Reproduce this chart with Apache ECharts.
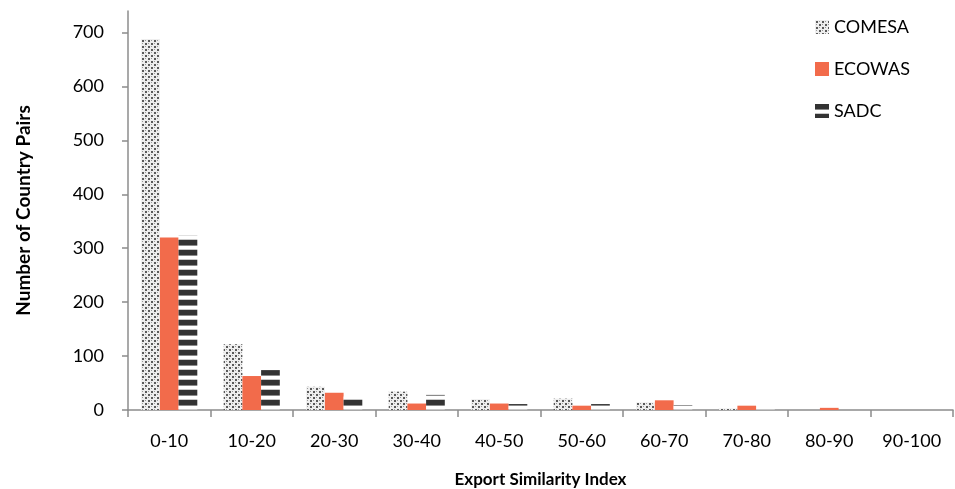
<!DOCTYPE html>
<html>
<head>
<meta charset="utf-8">
<script src="https://cdn.jsdelivr.net/npm/echarts@6/dist/echarts.min.js"></script>
<style>
  html, body { margin: 0; padding: 0; background: #fff; }
  #chart { width: 955px; height: 489px; }
</style>
</head>
<body>
<div id="chart"></div>
<script>
// Export similarity index bins and the number of country pairs in each bloc
const categories = ['0-10', '10-20', '20-30', '30-40', '40-50', '50-60', '60-70', '70-80', '80-90', '90-100'];
const comesa = [688, 122, 43, 34, 20, 21, 14, 3, 0, 0];
const ecowas = [320, 63, 32, 12, 12, 8, 18, 8, 4, 0];
const sadc = [323, 74, 25, 28, 11, 11, 9, 2, 0, 0];
const yTicks = [0, 100, 200, 300, 400, 500, 600, 700];

// Speckled fill: light grey ground with staggered dark dots
function dotPattern() {
  const c = document.createElement('canvas');
  c.width = 6; c.height = 6;
  const g = c.getContext('2d');
  g.fillStyle = '#eeeeee';
  g.fillRect(0, 0, 6, 6);
  g.fillStyle = '#5a5a5a';
  g.fillRect(1, 1, 2, 2);
  g.fillRect(4, 4, 2, 2);
  g.fillStyle = '#9a9a9a';
  g.fillRect(4, 1, 1, 1);
  g.fillRect(1, 4, 1, 1);
  return c;
}

// Horizontal stripes: dark bands on white
function stripePattern() {
  const c = document.createElement('canvas');
  c.width = 4; c.height = 10;
  const g = c.getContext('2d');
  g.fillStyle = '#ffffff';
  g.fillRect(0, 0, 4, 10);
  g.fillStyle = '#333333';
  g.fillRect(0, 0, 4, 5);
  g.fillStyle = '#8a8a8a';
  g.fillRect(0, 5, 4, 1);
  g.fillStyle = '#c8c8c8';
  g.fillRect(0, 9, 4, 1);
  return c;
}

const font = 'Lato, "Open Sans", sans-serif';
const axisGrey = '#8c8c8c';

const chart = echarts.init(document.getElementById('chart'));
chart.setOption({
  animation: false,
  backgroundColor: '#ffffff',
  textStyle: { fontFamily: font },
  grid: { left: 128, right: 2, top: 11, bottom: 79, containLabel: false, outerBoundsMode: 'none' },
  legend: {
    orient: 'vertical',
    left: 810,
    top: 13,
    itemWidth: 14,
    itemHeight: 14,
    itemGap: 24,
    icon: 'rect',
    textStyle: { fontFamily: font, fontSize: 18, color: '#000' },
    data: ['COMESA', 'ECOWAS', 'SADC']
  },
  xAxis: {
    type: 'category',
    data: categories,
    name: 'Export Similarity Index',
    nameLocation: 'middle',
    nameGap: 61,
    nameTextStyle: { fontFamily: font, fontSize: 17, fontWeight: 'bold', color: '#000' },
    axisLine: { lineStyle: { color: axisGrey, width: 1.5 } },
    axisTick: { show: true, length: 7, lineStyle: { color: axisGrey, width: 1.5 } },
    axisLabel: { fontFamily: font, fontSize: 18, color: '#000', margin: 22 }
  },
  yAxis: {
    type: 'value',
    min: 0,
    max: 740,
    name: 'Number of Country Pairs',
    nameLocation: 'middle',
    nameGap: 95,
    nameTextStyle: { fontFamily: font, fontSize: 19, fontWeight: 'bold', color: '#000' },
    splitLine: { show: false },
    axisLine: { show: true, lineStyle: { color: axisGrey, width: 1.5 } },
    axisTick: { show: true, length: 6, customValues: yTicks, lineStyle: { color: axisGrey, width: 1.5 } },
    axisLabel: { fontFamily: font, fontSize: 18, color: '#000', margin: 24, customValues: yTicks }
  },
  series: [
    {
      name: 'COMESA', type: 'bar', data: comesa,
      barGap: '0%', barCategoryGap: '32%',
      itemStyle: { color: { image: dotPattern(), repeat: 'repeat' } }
    },
    {
      name: 'ECOWAS', type: 'bar', data: ecowas,
      barGap: '0%', barCategoryGap: '32%',
      itemStyle: { color: '#f26b4b' }
    },
    {
      name: 'SADC', type: 'bar', data: sadc,
      barGap: '0%', barCategoryGap: '32%',
      itemStyle: { color: { image: stripePattern(), repeat: 'repeat' } }
    }
  ]
});
</script>
</body>
</html>
